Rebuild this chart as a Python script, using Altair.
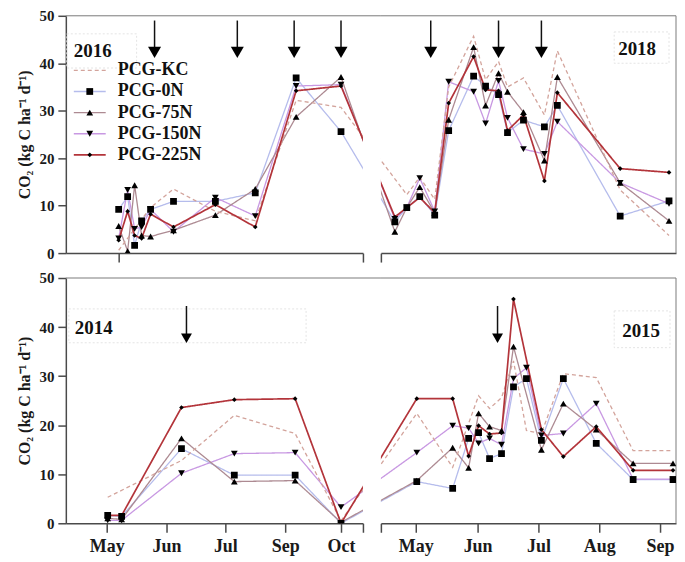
import altair as alt
import pandas as pd

FONT = "Liberation Serif"
SERIES = ["PCG-KC", "PCG-0N", "PCG-75N", "PCG-150N", "PCG-225N"]
LINE_COLORS = ["#d3a49c", "#b5bcec", "#ad8a92", "#c898e2", "#b3343a"]
MARKERS = ["circle", "square", "triangle-up", "triangle-down", "diamond"]
DASHES = [[4, 3], [1, 0], [1, 0], [1, 0], [1, 0]]
DRAW_ORDER = ["PCG-0N", "PCG-150N", "PCG-75N", "PCG-KC", "PCG-225N"]

# ---- top row: 2016 | 2018 (x = plotting day on the broken axis)
TOP_DAY = [6, 10.5, 14, 17.5, 22, 33.5, 54.5, 74.5, 95, 117.5,
           144.5, 150.5, 157, 164.5, 171.5, 184, 190, 196.5, 201, 209, 219.5, 226, 257.5, 282]
TOP_KC = [0.6, None, None, None, 9.6, 13.5, 8.8, 6.8, 32.2, 30.7,
          None, 12.3, 16.0, 11.3, 35.0, 45.7, 36.5, 40.4, 35.0, 36.9, 29.1, 42.6, 13.3, 3.7]
TOP_0N = [9.2, 11.9, 1.6, 6.8, 9.2, 10.9, 10.9, 12.7, 36.9, 25.6,
          6.6, 9.6, 11.9, 8.0, 25.8, 37.3, 35.2, 33.4, 25.4, 28.0, 26.6, 31.1, 7.8, 11.0]
TOP_75N = [5.7, 0.4, 14.3, 3.7, 3.5, 4.8, 8.0, 13.5, 28.7, 37.1,
           4.5, 9.6, 13.9, 8.5, 28.1, 43.4, 31.1, 37.9, 34.0, 29.7, 19.5, 37.1, 14.8, 6.8]
TOP_150N = [3.1, 13.3, 5.1, 5.5, 9.2, 4.5, 11.7, 7.8, 35.2, 35.5,
            7.2, 9.6, 15.8, 8.8, 36.1, 34.0, 27.3, 36.3, 28.5, 21.9, 20.9, 27.7, 14.8, 10.4]
TOP_225N = [2.7, 8.8, 3.7, 3.1, 8.2, 5.5, 10.2, 5.5, 34.2, 35.2,
            7.6, 9.6, 11.7, 8.5, 31.6, 41.4, 34.4, 34.2, 25.8, 29.1, 15.2, 33.8, 17.8, 17.0]

# ---- bottom row: 2014 | 2015
BOT_DAY = [0.5, 7.5, 37.5, 64, 94.5, 117.5,
           155.5, 173.5, 181.5, 186.5, 192, 198, 204, 210.5, 218, 229, 245.5, 264, 284]
BOT_KC = [5.3, None, 12.8, 22.0, 18.3, 0.5,
          22.4, 11.4, None, 26.0, 23.4, 25.6, 33.1, 18.9, 18.3, 30.5, 29.7, 14.8, 14.8]
BOT_0N = [1.6, 1.4, 15.2, 9.8, 9.8, 0.0,
          8.5, 7.1, 17.3, 18.5, 13.2, 14.2, 27.8, 29.5, 16.9, 29.5, 16.3, 8.9, 8.9]
BOT_75N = [1.0, 0.8, 17.3, 8.5, 8.7, 0.2,
           8.7, 15.4, 11.3, 22.4, 19.7, 18.9, 36.0, None, 15.0, 24.4, 19.1, 12.2, 12.2]
BOT_150N = [0.6, 0.6, 10.2, 14.2, 14.4, 3.3,
            14.4, 19.9, 19.4, 16.3, 17.3, 16.0, 29.5, 31.7, 17.9, 18.3, 24.4, 9.0, 9.0]
BOT_225N = [1.6, 1.6, 23.6, 25.2, 25.4, 0.0,
            25.4, 25.4, 13.7, 19.9, 18.2, 18.4, 45.7, None, 19.1, 13.6, 19.7, 10.8, 10.8]

# fertilisation arrows (plotting day)
ARROWS_2016 = [24, 65.5, 94, 117.5]
ARROWS_2018 = [162.5, 196.5, 218]
ARROWS_2014 = [40]
ARROWS_2015 = [196]

# month ticks of the bottom axes
MONTHS_2014 = ["May", "Jun", "Jul", "Sep", "Oct"]
MONTH_DAY_2014 = [0, 30, 59.5, 89.5, 117.5]
MONTHS_2015 = ["May", "Jun", "Jul", "Aug", "Sep"]
MONTH_DAY_2015 = [155, 186, 216.5, 247, 277.5]

LEFT_DOM = [-20.5, 128.5]
RIGHT_DOM = [137.5, 285.5]
WL, WR = 298, 296
H_TOP, H_BOT = 238, 246
HSP = 18

Y_TITLE = "CO\u2082 (kg C ha\u207b\u00b9 d\u207b\u00b9)"
AX = "#4a4a4a"
NO_VIEW = alt.ViewBackground(strokeWidth=0, strokeOpacity=0, stroke="transparent")


def long_df(days, cols):
    rows = []
    for s, vals in zip(SERIES, cols):
        for d, v in zip(days, vals):
            if v is not None:
                rows.append({"day": d, "co2": v, "series": s})
    return pd.DataFrame(rows)


TOP_DF = long_df(TOP_DAY, [TOP_KC, TOP_0N, TOP_75N, TOP_150N, TOP_225N])
BOT_DF = long_df(BOT_DAY, [BOT_KC, BOT_0N, BOT_75N, BOT_150N, BOT_225N])


def label_expr(names, days):
    expr = "''"
    for n, d in zip(reversed(names), reversed(days)):
        expr = f"datum.value == {d} ? '{n}' : ({expr})"
    return expr


def panel(df, dom, w, h, left, ticks, names, name_days, arrows, arrow_top, arrow_head,
          head_size, year, year_x, year_y, year_align, box, legend=False):
    xs = alt.Scale(domain=dom, nice=False, zero=False)
    ys = alt.Scale(domain=[0, 50], nice=False)
    ax_kw = dict(values=ticks, title=None, grid=False, domainColor=AX, domainWidth=1.5,
                 tickColor=AX, tickWidth=1.5, tickSize=9)
    if names:
        x_axis = alt.Axis(labelExpr=label_expr(names, name_days), labelFont=FONT,
                          labelFontSize=18, labelFontWeight="bold", labelColor="#1a1a1a",
                          labelPadding=5, labelFlush=False, labelOverlap=False, **ax_kw)
    else:
        x_axis = alt.Axis(labels=False, **ax_kw)
    if left:
        y_axis = alt.Axis(values=[0, 10, 20, 30, 40, 50], title=Y_TITLE, grid=False,
                          domainColor=AX, domainWidth=1.5, tickColor=AX, tickWidth=1.5,
                          tickSize=8, labelFont=FONT, labelFontSize=15,
                          labelFontWeight="bold", labelColor="#1a1a1a", labelPadding=4,
                          labelFlush=False, titleFont=FONT, titleFontSize=16,
                          titleFontWeight="bold", titleColor="#1a1a1a", titlePadding=6)
    else:
        y_axis = None

    def X(f="day"):
        return alt.X(f"{f}:Q", scale=xs, axis=x_axis)

    def Y(f="co2"):
        return alt.Y(f"{f}:Q", scale=ys, axis=y_axis)

    layers = []
    # faint box round the year label
    bdf = pd.DataFrame([{"day": box[0], "day2": box[1], "co2": box[2], "co22": box[3]}])
    layers.append(alt.Chart(bdf).mark_rect(filled=False, stroke="#e4e4e4", strokeWidth=1,
                                           strokeDash=[2, 2]).encode(
        x=X(), x2="day2:Q", y=Y(), y2="co22:Q"))
    # frame: top border (runs across the break) and right border
    one = pd.DataFrame([{"k": 0}])
    top_len = w + HSP if left else w
    layers.append(alt.Chart(one).mark_rule(color="#7a7a7a", strokeWidth=1).encode(
        x=alt.value(0), x2=alt.value(top_len), y=alt.value(0)))
    if not left:
        layers.append(alt.Chart(one).mark_rule(color="#7a7a7a", strokeWidth=1).encode(
            x=alt.value(w), y=alt.value(0), y2=alt.value(h)))

    for s in DRAW_ORDER:
        i = SERIES.index(s)
        sdf = df[df.series == s]
        layers.append(alt.Chart(sdf).mark_line(
            clip=True, color=LINE_COLORS[i], strokeDash=DASHES[i],
            strokeWidth=1.7 if s == "PCG-225N" else 1.3).encode(x=X(), y=Y()))
    for s in DRAW_ORDER:
        i = SERIES.index(s)
        if s == "PCG-KC":
            continue
        sdf = df[df.series == s]
        layers.append(alt.Chart(sdf).mark_point(
            clip=True, filled=True, color="#000000", opacity=1, shape=MARKERS[i],
            size=22 if s == "PCG-225N" else 46).encode(x=X(), y=Y()))

    adf = pd.DataFrame({"day": arrows, "co2": [arrow_head] * len(arrows),
                        "top": [arrow_top] * len(arrows)})
    layers.append(alt.Chart(adf).mark_rule(color="#111", strokeWidth=1.5).encode(
        x=X(), y=Y(), y2="top:Q"))
    layers.append(alt.Chart(adf).mark_point(filled=True, color="#000", opacity=1,
                                            shape="triangle-down", size=head_size).encode(
        x=X(), y=Y()))

    ydf = pd.DataFrame([{"day": year_x, "co2": year_y, "t": year}])
    layers.append(alt.Chart(ydf).mark_text(font=FONT, fontSize=19, fontWeight="bold",
                                           align=year_align, baseline="middle",
                                           color="#111").encode(x=X(), y=Y(), text="t:N"))

    if legend:
        ldf = pd.DataFrame({"series": SERIES,
                            "co2": [38.5 - 4.45 * k for k in range(len(SERIES))]})
        ldf["x1"] = -16.5
        ldf["x2"] = -0.5
        ldf["day"] = -8.5
        ldf["tx"] = 5.5
        for k, s in enumerate(SERIES):
            row = ldf[ldf.series == s]
            layers.append(alt.Chart(row).mark_rule(
                color=LINE_COLORS[k], strokeDash=DASHES[k],
                strokeWidth=1.7 if s == "PCG-225N" else 1.3).encode(
                x=X("x1"), x2="x2:Q", y=Y()))
            if s != "PCG-KC":
                layers.append(alt.Chart(row).mark_point(
                    filled=True, color="#000", opacity=1, shape=MARKERS[k],
                    size=22 if s == "PCG-225N" else 46).encode(x=X(), y=Y()))
        layers.append(alt.Chart(ldf).mark_text(font=FONT, fontSize=18, fontWeight="bold",
                                               align="left", baseline="middle",
                                               color="#111").encode(
            x=X("tx"), y=Y(), text="series:N"))

    return alt.layer(*layers).properties(width=w, height=h, view=NO_VIEW)


tl = panel(TOP_DF, LEFT_DOM, WL, H_TOP, True, [6, 128.5], None, None, ARROWS_2016, 49.0,
           42.3, 170, "2016", -16.5, 42.6, "left", [-20, 15, 46.2, 39.0], legend=True)
tr = panel(TOP_DF, RIGHT_DOM, WR, H_TOP, False, [137.5], None, None, ARROWS_2018, 49.0,
           42.3, 170, "2018", 266, 43.0, "center", [254.5, 282, 46.6, 40.0])
bl = panel(BOT_DF, LEFT_DOM, WL, H_BOT, True, MONTH_DAY_2014 + [128.5], MONTHS_2014,
           MONTH_DAY_2014, ARROWS_2014, 44.3, 37.7, 120, "2014", -16.0, 39.8, "left",
           [-19, 100, 43.7, 36.8])
br = panel(BOT_DF, RIGHT_DOM, WR, H_BOT, False, [137.5] + MONTH_DAY_2015, MONTHS_2015,
           MONTH_DAY_2015, ARROWS_2015, 44.3, 37.7, 120, "2015", 268, 39.2, "center",
           [254.5, 282.5, 43.3, 35.8])

top = alt.hconcat(tl, tr, spacing=HSP, bounds="flush")
bottom = alt.hconcat(bl, br, spacing=HSP, bounds="flush")
chart = alt.vconcat(top, bottom, spacing=8).properties(
    padding={"left": 9, "top": 0, "right": 0, "bottom": 0}
).configure_view(strokeWidth=0, strokeOpacity=0).configure(font=FONT, background="white")

chart.save("out.html", embed_options={"renderer": "svg", "actions": False})
